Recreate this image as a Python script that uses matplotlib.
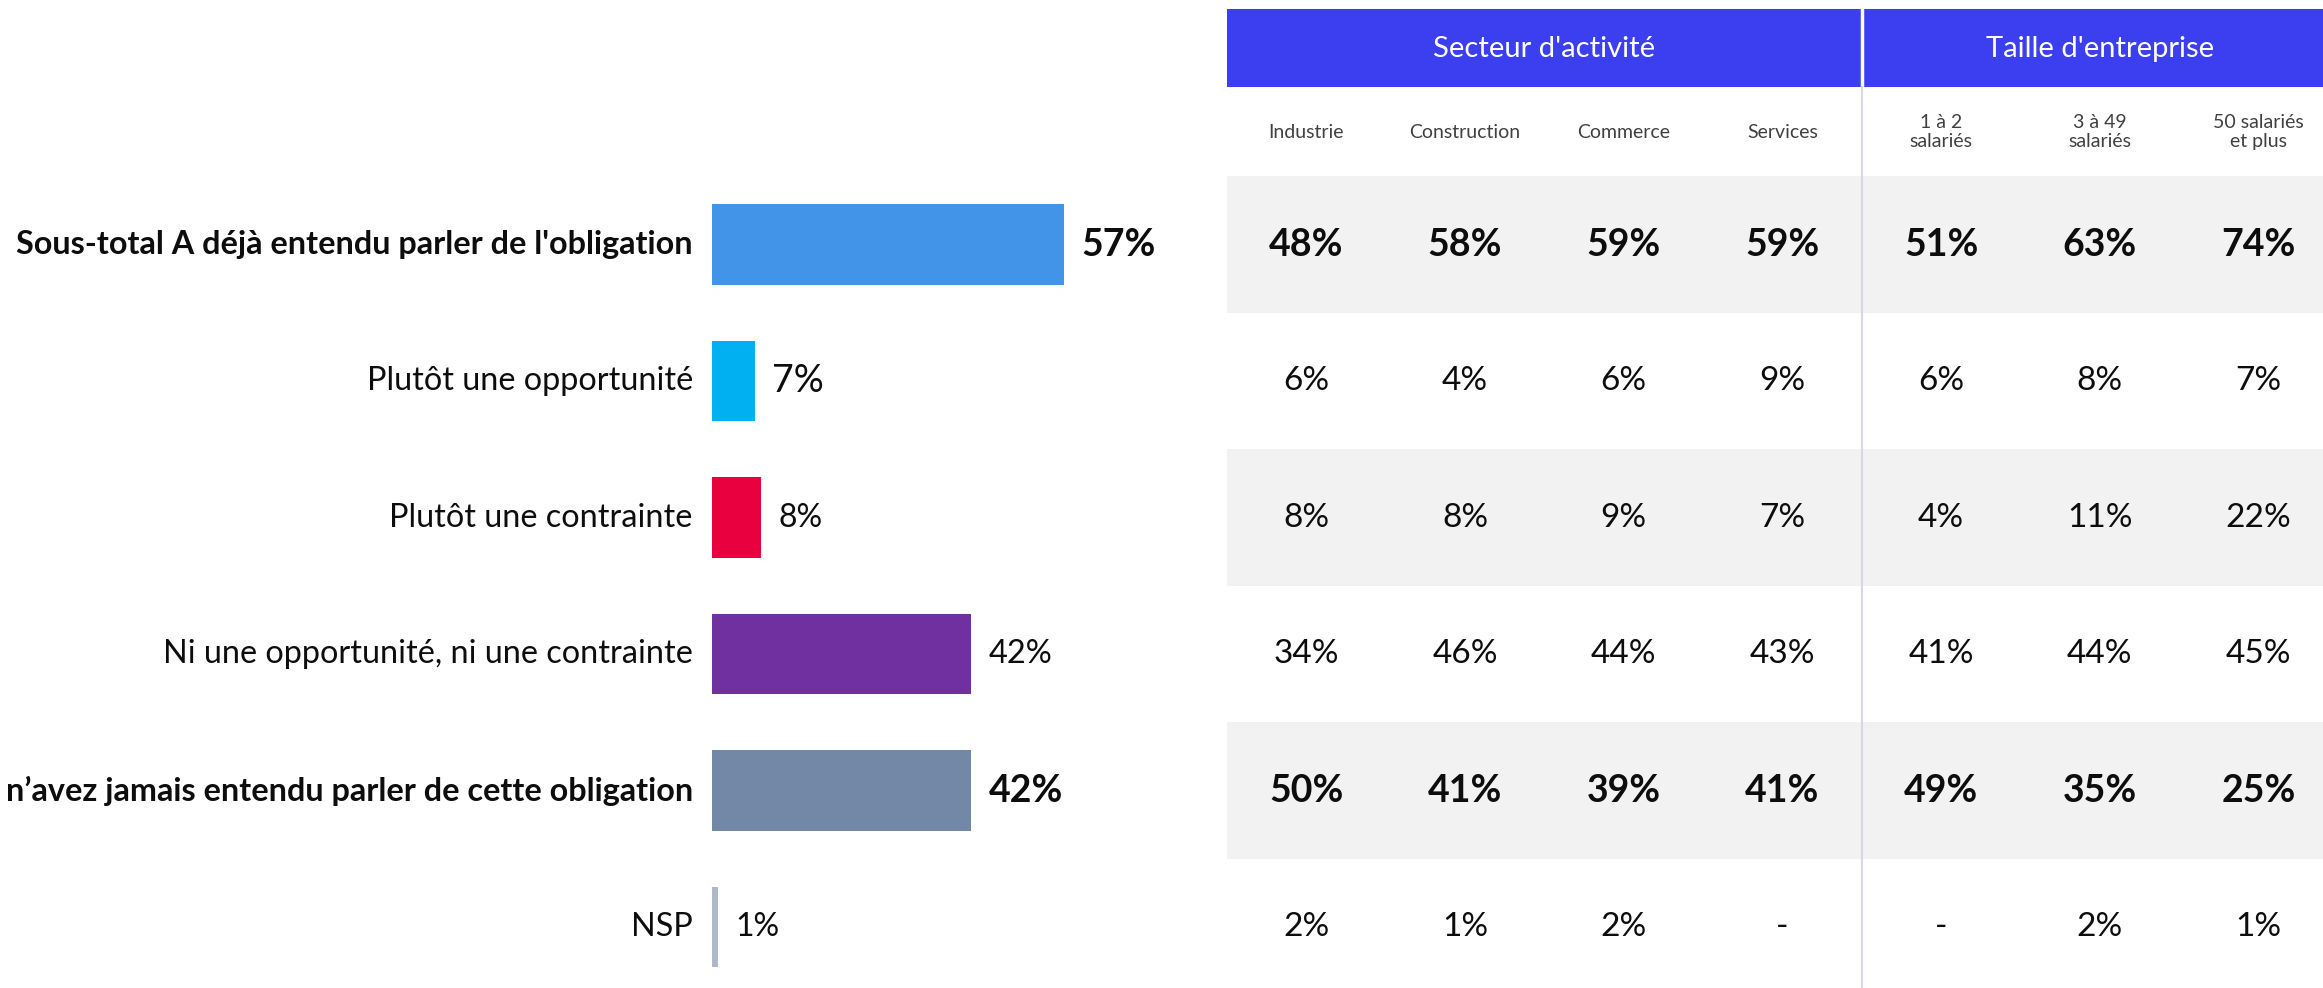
import matplotlib
matplotlib.use('Agg')
import matplotlib.pyplot as plt
from matplotlib.patches import Rectangle

plt.rcParams['font.family'] = ['Lato', 'DejaVu Sans']

# data
labels = ["Sous-total A déjà entendu parler de l'obligation",
          "Plutôt une opportunité",
          "Plutôt une contrainte",
          "Ni une opportunité, ni une contrainte",
          "n\u2019avez jamais entendu parler de cette obligation",
          "NSP"]
totals = [57, 7, 8, 42, 42, 1]
bold_rows = [True, False, False, False, True, False]
bar_colors = ['#4194E8', '#00B0F0', '#E8003F', '#7030A0', '#7388A6', '#ADB9CA']

groups = ["Secteur d'activité", "Taille d'entreprise"]
columns = ['Industrie', 'Construction', 'Commerce', 'Services',
           '1 à 2\nsalariés', '3 à 49\nsalariés', '50 salariés\net plus']
industrie = [48, 6, 8, 34, 50, 2]
construction = [58, 4, 8, 46, 41, 1]
commerce = [59, 6, 9, 44, 39, 2]
services = [59, 9, 7, 43, 41, None]
sal_1_2 = [51, 6, 4, 41, 49, None]
sal_3_49 = [63, 8, 11, 44, 35, 2]
sal_50 = [74, 7, 22, 45, 25, 1]
table = [industrie, construction, commerce, services, sal_1_2, sal_3_49, sal_50]

W, H = 2323, 988
row_h = 136.5
row0 = 244.5
ylim = ((H - row0) / row_h, -row0 / row_h)
px_per_pct = 6.175
bar_x0, tab_x0 = 712, 1227
col_w = 158.7

fig = plt.figure(figsize=(W / 100, H / 100), dpi=100)
fig.patch.set_facecolor('white')

# bar part
axb = fig.add_axes([bar_x0 / W, 0, (tab_x0 - bar_x0) / W, 1])
axb.set_xlim(0, (tab_x0 - bar_x0) / px_per_pct)
axb.set_ylim(*ylim)
axb.axis('off')
rows = list(range(len(labels)))
axb.barh(rows, totals, height=0.59, color=bar_colors)
val_sizes = [27, 27, 23, 23.5, 27, 23]
for i, (lab, v, b) in enumerate(zip(labels, totals, bold_rows)):
    w = 'bold' if b else 'normal'
    axb.text(-3.1, i, lab, ha='right', va='center', fontsize=23.3,
             fontweight=w, color='#0d0d0d', clip_on=False)
    axb.text(v + 2.75, i, f'{v}%', ha='left', va='center', fontsize=val_sizes[i],
             fontweight=w, color='#0d0d0d')

# table part
axt = fig.add_axes([tab_x0 / W, 0, (W - tab_x0) / W, 1])
axt.set_xlim(-0.5, (W - tab_x0) / col_w - 0.5)
axt.set_ylim(*ylim)
axt.axis('off')
xmax = (W - tab_x0) / col_w - 0.5
for i, b in enumerate(bold_rows):
    if i % 2 == 0:
        axt.add_patch(Rectangle((-0.5, i - 0.5), xmax + 0.5, 1, color='#F2F2F2', lw=0))

hy0 = (9 - row0) / row_h
hy1 = (87 - row0) / row_h
axt.add_patch(Rectangle((-0.5, hy0), 4, hy1 - hy0, color='#3B3FEF', lw=0))
axt.add_patch(Rectangle((3.5, hy0), xmax - 3.5, hy1 - hy0, color='#3B3FEF', lw=0))
axt.plot([3.5, 3.5], [hy0, hy1], color='white', lw=2.5)
axt.plot([3.5, 3.5], [hy1, ylim[0]], color='#D3D9E6', lw=1.5)
hy_mid = (hy0 + hy1) / 2 + 0.01
axt.text(1.5, hy_mid, groups[0], ha='center', va='center', color='white', fontsize=21)
axt.text(5, hy_mid, groups[1], ha='center', va='center', color='white', fontsize=21)

lab_y = (132 - row0) / row_h
for j, c in enumerate(columns):
    axt.text(j, lab_y, c, ha='center', va='center', fontsize=14, color='#404040',
             linespacing=1.2)

for j, col in enumerate(table):
    for i, v in enumerate(col):
        s = '-' if v is None else f'{v}%'
        b = bold_rows[i]
        axt.text(j, i, s, ha='center', va='center', fontsize=27 if b else 24,
                 fontweight='bold' if b else 'normal', color='#0d0d0d')

fig.savefig('out.png', dpi=100, facecolor='white')
